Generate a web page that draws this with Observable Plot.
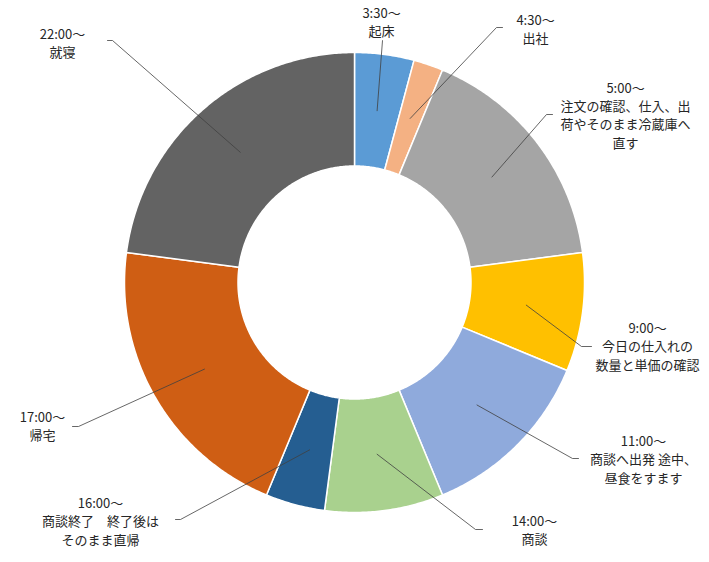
<!DOCTYPE html>
<html>
<head>
<meta charset="utf-8">
<script src="https://cdn.jsdelivr.net/npm/d3@7"></script>
<script src="https://cdn.jsdelivr.net/npm/@observablehq/plot@0.6"></script>
<style>
  html, body { margin: 0; padding: 0; background: #fff; }
  #chart { width: 709px; height: 562px; }
</style>
</head>
<body>
<div id="chart"></div>
<script>
// ---- data ----
const times = ["3:30～", "4:30～", "5:00～", "9:00～", "11:00～", "14:00～", "16:00～", "17:00～", "22:00～"];
const activities = [
  "起床",
  "出社",
  "注文の確認、仕入、出\n荷やそのまま冷蔵庫へ\n直す",
  "今日の仕入れの\n数量と単価の確認",
  "商談へ出発 途中、\n昼食をすます",
  "商談",
  "商談終了　終了後は\nそのまま直帰",
  "帰宅",
  "就寝"
];
const hours = [1, 0.5, 4, 2, 3, 2, 1, 5, 5.5];
const colors = ["#5B9BD5", "#F4B183", "#A5A5A5", "#FFC000", "#8FAADC", "#A9D18E", "#255E91", "#CF5E14", "#636363"];

// ---- layout (chart units, centre of donut = 0,0) ----
const outerR = 230, innerR = 116.5;
const labelPos = [[27,-261],[181,-254.5],[271,-168],[293,63],[289,176],[180,247],[-254,238],[-312,143],[-292,-240]];
const elbowPos = [[28,-242],[142,-255],[192,-168],[227,64],[218,176],[121,247],[-174,237],[-276,144],[-242,-242]];
const stubPos  = [[28,-242],[148,-255],[198,-168],[237,64],[224,176],[128,247],[-179,237],[-282,144],[-247,-242]];

const names = times.map(t => t);
const pie = d3.pie().sort(null).value(d => d).startAngle(0).endAngle(2 * Math.PI)(hours);

const pt = (r, a) => [r * Math.sin(a), -r * Math.cos(a)];

// slice polygons
const slicePts = [];
pie.forEach((p, i) => {
  const n = Math.max(4, Math.ceil((p.endAngle - p.startAngle) / (Math.PI / 360)));
  const pts = [];
  for (let k = 0; k <= n; k++) pts.push(pt(outerR, p.startAngle + (p.endAngle - p.startAngle) * k / n));
  for (let k = n; k >= 0; k--) pts.push(pt(innerR, p.startAngle + (p.endAngle - p.startAngle) * k / n));
  pts.push(pts[0]);
  pts.forEach(([x, y]) => slicePts.push({name: names[i], x, y}));
});

// leader lines
const leaderPts = [];
pie.forEach((p, i) => {
  const mid = (p.startAngle + p.endAngle) / 2;
  const s = pt((outerR + innerR) / 2, mid);
  leaderPts.push({name: names[i], x: s[0], y: s[1]});
  leaderPts.push({name: names[i], x: elbowPos[i][0], y: elbowPos[i][1]});
  leaderPts.push({name: names[i], x: stubPos[i][0], y: stubPos[i][1]});
});

const labels = times.map((t, i) => ({name: t, text: t + "\n" + activities[i], x: labelPos[i][0], y: labelPos[i][1]}));

const chart = Plot.plot({
  width: 709,
  height: 562,
  margin: 0,
  x: {domain: [-354, 355], range: [0, 709], axis: null},
  y: {domain: [-282, 280], range: [0, 562], axis: null},
  color: {domain: names, range: colors},
  style: {fontFamily: "'Noto Sans CJK JP', sans-serif", background: "#fff"},
  marks: [
    Plot.line(slicePts, {x: "x", y: "y", z: "name", fill: "name", stroke: "#fff", strokeWidth: 1.5, curve: "linear"}),
    Plot.line(leaderPts, {x: "x", y: "y", z: "name", stroke: "#404040", strokeWidth: 0.8, curve: "linear"}),
    Plot.text(labels, {x: "x", y: "y", text: "text", fill: "#262626", fontSize: 13, lineHeight: 1.4, textAnchor: "middle", lineAnchor: "middle", fontFamily: "'Noto Sans CJK JP', sans-serif"})
  ]
});
document.getElementById("chart").appendChild(chart);
</script>
</body>
</html>
